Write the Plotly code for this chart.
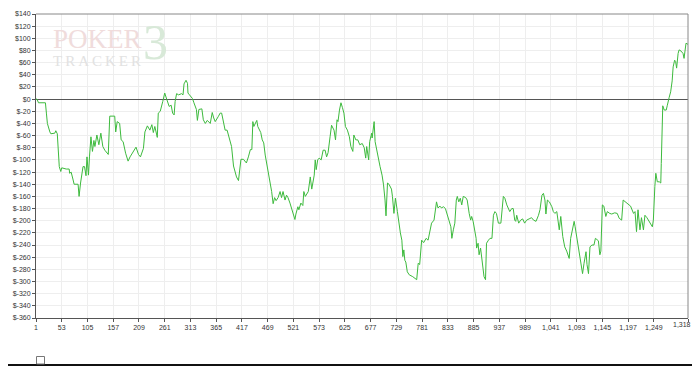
import plotly.graph_objects as go

hands = [1, 3, 6, 20, 22, 24, 29, 31, 39, 41, 44, 48, 51, 53, 62, 68, 69, 72, 76, 78, 86, 88, 91, 94, 96, 99,
         102, 104, 107, 109, 112, 115, 118, 120, 124, 128, 132, 136, 140, 147, 150, 160, 162, 165, 170, 173,
         177, 182, 187, 191, 196, 203, 208, 212, 218, 221, 226, 231, 235, 238, 241, 246, 248, 252, 257, 261,
         265, 270, 274, 277, 280, 282, 285, 289, 295, 298, 300, 304, 307, 308, 311, 317, 320, 325, 327, 330,
         336, 339, 343, 347, 353, 357, 360, 363, 369, 373, 376, 378, 383, 387, 392, 396, 400, 403, 406, 410,
         412, 415, 420, 423, 426, 430, 434, 437, 439, 441, 444, 447, 449, 452, 455, 458, 461, 464, 468, 474,
         477, 480, 483, 486, 490, 494, 497, 500, 504, 507, 510, 514, 517, 521, 524, 526, 530, 532, 536, 540,
         542, 545, 551, 555, 558, 563, 565, 567, 570, 573, 577, 581, 585, 588, 591, 595, 598, 603, 606, 609,
         611, 614, 617, 620, 623, 626, 630, 634, 637, 641, 643, 647, 651, 655, 660, 664, 667, 669, 673, 675,
         679, 680, 684, 686, 689, 693, 696, 700, 703, 706, 708, 711, 714, 719, 721, 724, 727, 731, 733, 737,
         740, 742, 744, 746, 748, 751, 755, 762, 770, 773, 776, 780, 784, 789, 793, 797, 800, 805, 810, 813,
         817, 820, 824, 828, 832, 835, 839, 841, 844, 847, 850, 852, 855, 858, 861, 864, 869, 872, 876, 879,
         881, 884, 890, 891, 894, 896, 899, 903, 906, 909, 911, 915, 918, 922, 925, 928, 931, 935, 940, 945,
         948, 952, 955, 958, 962, 965, 968, 970, 972, 976, 980, 984, 988, 992, 997, 1002, 1006, 1011, 1016,
         1019, 1023, 1026, 1029, 1031, 1034, 1038, 1043, 1046, 1049, 1053, 1058, 1061, 1065, 1069, 1073, 1078,
         1081, 1085, 1088, 1090, 1093, 1097, 1100, 1103, 1105, 1108, 1112, 1114, 1117, 1120, 1124, 1128, 1131,
         1134, 1137, 1140, 1142, 1145, 1148, 1152, 1155, 1160, 1164, 1170, 1175, 1179, 1184, 1187, 1191, 1194,
         1198, 1202, 1208, 1211, 1214, 1217, 1221, 1224, 1228, 1231, 1235, 1241, 1246, 1248, 1249, 1251, 1253,
         1256, 1260, 1263, 1264, 1266, 1267, 1270, 1274, 1276, 1278, 1280, 1283, 1286, 1288, 1291, 1293, 1295,
         1298, 1300, 1304, 1308, 1310, 1312, 1314, 1318]

profit = [0, 0, -6, -6, -23, -40, -54, -57, -56, -52, -57, -111, -119, -113, -115, -115, -122, -120, -133, -140,
          -140, -160, -138, -125, -111, -111, -126, -95, -125, -95, -62, -86, -68, -78, -59, -75, -56, -78, -84,
          -91, -28, -28, -54, -37, -40, -67, -70, -89, -102, -95, -89, -79, -91, -95, -81, -54, -44, -51, -42,
          -55, -45, -63, -23, -20, -4, 10, 0, -12, -10, -23, -26, -4, 9, 7, 9, 7, 25, 31, 26, 10, 7, 1, -6, -17,
          -35, -17, -16, -34, -40, -35, -40, -22, -31, -37, -29, -23, -23, -31, -51, -51, -65, -78, -110, -122,
          -128, -134, -118, -99, -99, -103, -105, -95, -83, -83, -37, -45, -40, -35, -45, -51, -55, -67, -72,
          -92, -111, -133, -152, -172, -162, -167, -162, -152, -162, -152, -166, -158, -162, -171, -180, -188,
          -198, -189, -177, -182, -171, -175, -152, -160, -152, -128, -148, -125, -100, -116, -100, -97, -100,
          -84, -84, -95, -88, -62, -43, -51, -67, -34, -37, -18, -6, -14, -23, -45, -51, -62, -78, -86, -59,
          -67, -67, -75, -73, -80, -97, -78, -100, -70, -56, -64, -37, -70, -84, -97, -111, -125, -141, -166,
          -192, -138, -140, -148, -160, -188, -163, -185, -199, -220, -232, -259, -248, -265, -268, -284, -289,
          -292, -297, -270, -272, -232, -236, -229, -232, -218, -204, -199, -169, -179, -176, -179, -177, -180,
          -193, -199, -210, -229, -215, -204, -166, -160, -169, -163, -174, -160, -162, -166, -188, -199, -193,
          -201, -229, -245, -237, -256, -245, -270, -292, -297, -237, -232, -229, -229, -191, -185, -188, -204,
          -204, -160, -163, -174, -179, -185, -180, -180, -199, -201, -191, -204, -199, -197, -204, -199, -197,
          -195, -199, -201, -191, -182, -158, -155, -166, -189, -166, -169, -177, -185, -188, -185, -215, -193,
          -226, -243, -250, -262, -229, -215, -201, -210, -225, -240, -255, -270, -287, -270, -251, -272, -287,
          -243, -240, -240, -229, -231, -233, -256, -250, -174, -176, -193, -185, -188, -189, -187, -188, -196,
          -199, -166, -169, -171, -174, -176, -188, -185, -218, -182, -215, -195, -215, -191, -195, -204, -210,
          -199, -166, -144, -122, -136, -136, -138, -106, -18, -11, -18, -18, -11, -2, 3, 12, 30, 53, 64, 62, 51,
          75, 81, 79, 75, 67, 80, 92, 90]

x_tick_vals = [1, 53, 105, 157, 209, 261, 313, 365, 417, 469, 521, 573, 625, 677, 729, 781, 833, 885, 937,
               989, 1041, 1093, 1145, 1197, 1249, 1318]
x_tick_text = ["1", "53", "105", "157", "209", "261", "313", "365", "417", "469", "521", "573", "625", "677",
               "729", "781", "833", "885", "937", "989", "1,041", "1,093", "1,145", "1,197", "1,249", "1,318"]
y_tick_vals = [140, 120, 100, 80, 60, 40, 20, 0, -20, -40, -60, -80, -100, -120, -140, -160, -180, -200,
               -220, -240, -260, -280, -300, -320, -340, -360]
y_tick_text = ["$140", "$120", "$100", "$80", "$60", "$40", "$20", "$0", "$-20", "$-40", "$-60", "$-80",
               "$-100", "$-120", "$-140", "$-160", "$-180", "$-200", "$-220", "$-240", "$-260", "$-280",
               "$-300", "$-320", "$-340", "$-360"]

# The page body has an 8px margin, so the figure is drawn 8px in from the window's corner.
OFF = 8
W, H = 700 - 2 * OFF, 366 - OFF
# plot area in window pixels: x 36..688, y 14..318
X0, X1, Y0, Y1 = 36, 688, 14, 318
L, R, T, B = X0 - OFF, (OFF + W) - X1, Y0 - OFF, (OFF + H) - Y1
PW, PH = X1 - X0, Y1 - Y0


def px(x):
    return (x - X0) / PW


def py(y):
    return (Y1 - y) / PH


fig = go.Figure()
fig.add_trace(go.Scatter(x=hands, y=profit, mode="lines",
                         line=dict(color="#3dba3d", width=1), hoverinfo="skip", showlegend=False))

font = dict(family="Liberation Sans, Arial, sans-serif", size=7, color="#333333")

# the last x label is drawn as an annotation so it stays inside the visible page
x_labels_on_axis = x_tick_text[:-1] + [""]

fig.update_layout(
    width=W, height=H,
    margin=dict(l=L, r=R, t=T, b=B, autoexpand=False),
    paper_bgcolor="white", plot_bgcolor="white",
    font=font,
    xaxis=dict(range=[1, 1318], tickvals=x_tick_vals, ticktext=x_labels_on_axis, showgrid=True,
               gridcolor="#eeeeee", gridwidth=1, showline=True, linecolor="#555555", linewidth=1,
               ticks="outside", ticklen=3, tickcolor="#555555", zeroline=False, tickfont=font,
               fixedrange=True, automargin=False),
    yaxis=dict(range=[-360, 140], tickvals=y_tick_vals, ticktext=y_tick_text, showgrid=True,
               gridcolor="#eeeeee", gridwidth=1, showline=True, linecolor="#555555", linewidth=1,
               ticks="outside", ticklen=3, tickcolor="#555555", zeroline=True, zerolinecolor="#555555",
               zerolinewidth=1, tickfont=font, fixedrange=True, automargin=False),
)

fig.add_annotation(xref="paper", yref="paper", x=px(692), y=py(319.5), xanchor="right", yanchor="top",
                   text=x_tick_text[-1], showarrow=False, font=font, borderpad=0)

# frame top / right
fig.add_shape(type="line", xref="paper", yref="paper", x0=0, x1=1, y0=1, y1=1,
              line=dict(color="#888888", width=1))
fig.add_shape(type="line", xref="paper", yref="paper", x0=1, x1=1, y0=0, y1=1,
              line=dict(color="#888888", width=1))
# window bottom edge and small box
fig.add_shape(type="line", xref="paper", yref="paper", x0=px(8), x1=px(692), y0=py(365), y1=py(365),
              line=dict(color="#111111", width=2))
fig.add_shape(type="rect", xref="paper", yref="paper", x0=px(36.5), x1=px(44.5), y0=py(364), y1=py(356.5),
              line=dict(color="#777777", width=1), fillcolor="white")

# watermark
fig.add_annotation(xref="paper", yref="paper", x=px(51), y=py(46), xanchor="left", yanchor="middle",
                   text=("<span style='font-size:27px;color:#f0dcdc'>POKER</span><br>"
                         "<span style='font-size:15px;color:#e2e2e2'>T\u2009R\u2009A\u2009C\u2009K\u2009E\u2009R</span>"),
                   showarrow=False, align="left",
                   font=dict(family="Liberation Serif, serif", size=14, color="#e2e2e2"))
fig.add_annotation(xref="paper", yref="paper", x=px(141), y=py(42), xanchor="left", yanchor="middle",
                   text="3", showarrow=False,
                   font=dict(family="Liberation Serif, serif", size=50, color="#d8e9d8"))

fig.write_html("out.html")
